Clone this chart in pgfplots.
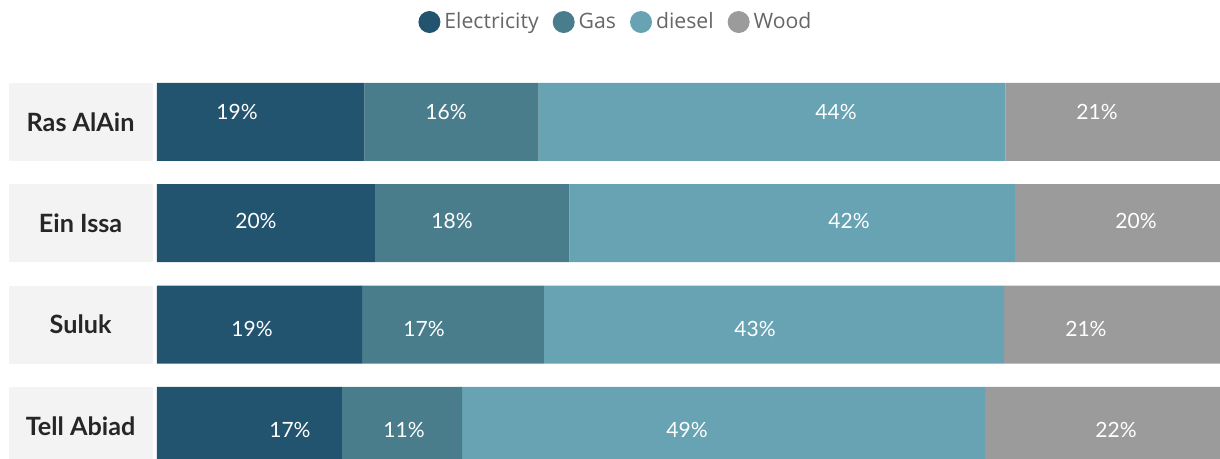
\documentclass[border=0pt]{standalone}
\usepackage{fontspec}
\setmainfont{Lato}
\newfontfamily\legfont{Open Sans}
\usepackage{pgfplots}
\pgfplotsset{compat=1.18}

\definecolor{elec}{HTML}{22536F}
\definecolor{gas}{HTML}{4A7D8C}
\definecolor{diesel}{HTML}{67A3B3}
\definecolor{wood}{HTML}{9B9B9B}
\definecolor{boxgray}{HTML}{F3F3F3}
\definecolor{legtext}{HTML}{666666}

\pgfplotsset{
  base/.style={
    width=531.5pt, height=229.5pt, scale only axis,
    xmin=0, xmax=100, ymin=-0.3254, ymax=4.2012,
    axis line style={draw=none}, major tick length=0pt,
    xtick=\empty,
  },
}

\begin{document}
\begin{tikzpicture}
\begin{axis}[
  base,
  xbar stacked,
  bar width=39pt,
  ytick={0,1,2,3},
  yticklabels={Tell Abiad,Suluk,Ein Issa,Ras AlAin},
  yticklabel style={fill=boxgray, minimum width=72pt, minimum height=39pt,
    inner sep=0pt, anchor=east, xshift=-2pt, align=center,
    font=\fontsize{12.6}{14}\selectfont\bfseries, text=black!85},
  legend style={at={(0.4327,0.952)}, anchor=center, draw=none, fill=none,
    legend columns=4, font=\legfont\fontsize{10.6}{12}\selectfont, text=legtext,
    /tikz/every even column/.append style={column sep=5pt},
    /tikz/every odd column/.append style={column sep=0pt}},
]
\coordinate (SW) at (rel axis cs:0,0);
\coordinate (NE) at (rel axis cs:1,1);
\addplot[fill=elec, draw=none,
  legend image code/.code={\fill[elec] (0pt,0pt) circle (5.5pt);}]
  coordinates {(17.4,0) (19.3,1) (20.5,2) (19.5,3)};
\addplot[fill=gas, draw=none,
  legend image code/.code={\fill[gas] (0pt,0pt) circle (5.5pt);}]
  coordinates {(11.3,0) (17.1,1) (18.3,2) (16.4,3)};
\addplot[fill=diesel, draw=none,
  legend image code/.code={\fill[diesel] (0pt,0pt) circle (5.5pt);}]
  coordinates {(49.2,0) (43.3,1) (41.9,2) (43.9,3)};
\addplot[fill=wood, draw=none,
  legend image code/.code={\fill[wood] (0pt,0pt) circle (5.5pt);}]
  coordinates {(22.1,0) (20.3,1) (19.3,2) (20.2,3)};
\legend{Electricity,Gas,diesel,Wood}
\end{axis}

\begin{axis}[base, ytick=\empty]
\addplot[only marks, mark=none, point meta=explicit symbolic,
  nodes near coords, nodes near coords align={center},
  every node near coord/.append style={text=white, anchor=center,
    font=\fontsize{10.5}{12}\selectfont}]
  coordinates {
    (7.53,3.097) [19\%] (27.19,3.097) [16\%] (63.88,3.097) [44\%] (88.43,3.097) [21\%]
    (9.31,2.022) [20\%] (27.75,2.022) [18\%] (65.10,2.022) [42\%] (92.10,2.022) [20\%]
    (8.94,0.957) [19\%] (25.12,0.957) [17\%] (56.26,0.957) [43\%] (87.39,0.957) [21\%]
    (12.51,-0.039) [17\%] (23.24,-0.039) [11\%] (49.86,-0.039) [49\%] (90.22,-0.039) [22\%]
  };
\end{axis}
\pgfresetboundingbox
\path[use as bounding box] ([xshift=-78.5pt]SW) rectangle (NE);
\end{tikzpicture}
\end{document}
